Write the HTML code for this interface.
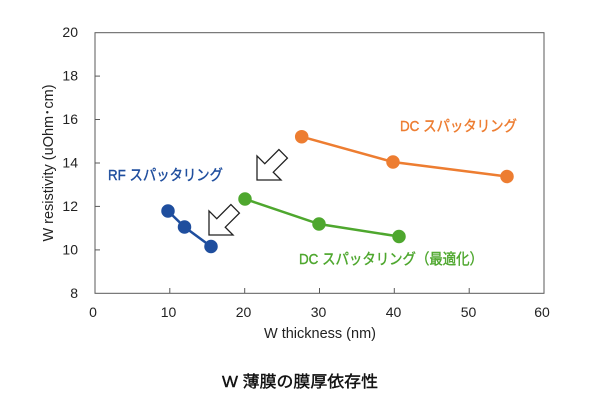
<!DOCTYPE html>
<html><head><meta charset="utf-8"><style>
html,body{margin:0;padding:0;background:#fff;}
svg{display:block;font-family:"Liberation Sans","Noto Sans CJK JP",sans-serif;}
</style></head><body>
<svg width="600" height="400" viewBox="0 0 600 400">
<rect x="95" y="32.7" width="449" height="260.6" fill="none" stroke="#595959" stroke-width="1"/>
<g stroke="#595959" stroke-width="1">
<line x1="169.8" y1="293.3" x2="169.8" y2="288"/>
<line x1="244.7" y1="293.3" x2="244.7" y2="288"/>
<line x1="319.5" y1="293.3" x2="319.5" y2="288"/>
<line x1="394.3" y1="293.3" x2="394.3" y2="288"/>
<line x1="469.2" y1="293.3" x2="469.2" y2="288"/>
<line x1="95" y1="249.9" x2="100" y2="249.9"/>
<line x1="95" y1="206.4" x2="100" y2="206.4"/>
<line x1="95" y1="163" x2="100" y2="163"/>
<line x1="95" y1="119.5" x2="100" y2="119.5"/>
<line x1="95" y1="76.1" x2="100" y2="76.1"/>
</g>
<g font-size="14" fill="#222" text-anchor="end">
<text x="78" y="298">8</text>
<text x="78" y="254.5">10</text>
<text x="78" y="211">12</text>
<text x="78" y="167.5">14</text>
<text x="78" y="124">16</text>
<text x="78" y="80.5">18</text>
<text x="78" y="37">20</text>
</g>
<g font-size="14" fill="#222" text-anchor="middle">
<text x="93" y="317">0</text>
<text x="168.5" y="317">10</text>
<text x="243.5" y="317">20</text>
<text x="318.5" y="317">30</text>
<text x="393.5" y="317">40</text>
<text x="468.5" y="317">50</text>
<text x="542" y="317">60</text>
<text x="320" y="338" font-size="14.5">W thickness (nm)</text>
<text transform="translate(53,163) rotate(-90)" font-size="14.5">W resistivity (uOhm･cm)</text>
</g>
<g stroke="#ED7D31" fill="#ED7D31" stroke-width="2.5">
<polyline points="301.7,136.7 393,162 507,176.5" fill="none"/>
<circle cx="301.7" cy="136.7" r="5.5"/><circle cx="393" cy="162" r="5.5"/><circle cx="507" cy="176.5" r="5.5"/>
</g>
<g stroke="#4EA72E" fill="#4EA72E" stroke-width="2.5">
<polyline points="245,199 319,224 399,236.5" fill="none"/>
<circle cx="245" cy="199" r="5.5"/><circle cx="319" cy="224" r="5.5"/><circle cx="399" cy="236.5" r="5.5"/>
</g>
<g stroke="#1F4E9E" fill="#1F4E9E" stroke-width="2.5">
<polyline points="168,211 184.5,227 211,246.5" fill="none"/>
<circle cx="168" cy="211" r="5.5"/><circle cx="184.5" cy="227" r="5.5"/><circle cx="211" cy="246.5" r="5.5"/>
</g>
<g fill="#fff" stroke="#222" stroke-width="1.3">
<polygon transform="translate(257,180) rotate(-45)" points="0,0 17,-17 17,-6 37,-6 37,6 17,6 17,17"/>
<polygon transform="translate(209,235) rotate(-45)" points="0,0 17,-17 17,-6 37,-6 37,6 17,6 17,17"/>
</g>
<g font-size="15" stroke-width="0.4">
<text x="400" y="131" fill="#ED7D31" stroke="#ED7D31" textLength="117" lengthAdjust="spacingAndGlyphs">DC スパッタリング</text>
<text x="299" y="264" fill="#4EA72E" stroke="#4EA72E" textLength="184" lengthAdjust="spacingAndGlyphs">DC スパッタリング（最適化）</text>
<text x="108" y="180" fill="#1F4E9E" stroke="#1F4E9E" textLength="115" lengthAdjust="spacingAndGlyphs">RF スパッタリング</text>
</g>
<text x="222" y="387" font-size="16" fill="#111" stroke="#111" stroke-width="0.4" textLength="156" lengthAdjust="spacingAndGlyphs">W 薄膜の膜厚依存性</text>
</svg>
</body></html>
